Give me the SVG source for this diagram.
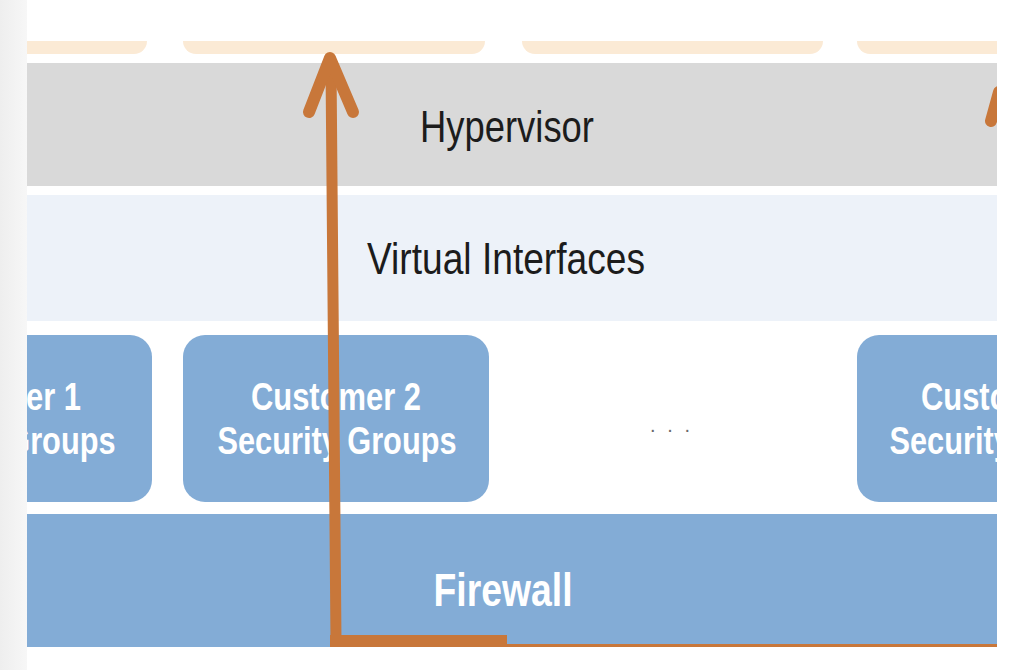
<svg xmlns="http://www.w3.org/2000/svg" width="1012" height="670" viewBox="0 0 1012 670">
  <style>
    .peach { fill: #fbead5; }
    .hyper { fill: #d9d9d9; }
    .vif { fill: #edf2f9; }
    .blue { fill: #83acd6; }
    .dark { font-family: "Liberation Sans", Arial, sans-serif; font-size: 44px; fill: #1c1c1c; text-anchor: middle; }
    .cust { font-family: "Liberation Sans", Arial, sans-serif; font-size: 38px; font-weight: bold; fill: #ffffff; text-anchor: middle; }
    .fw { font-family: "Liberation Sans", Arial, sans-serif; font-size: 47px; font-weight: bold; fill: #ffffff; text-anchor: middle; }
    .dots { font-family: "Liberation Sans", Arial, sans-serif; font-size: 20px; fill: #6a6a6a; text-anchor: middle; }
    .flow { fill: none; stroke: #c8773a; stroke-linecap: round; stroke-linejoin: round; }
  </style>
  <defs>
    <linearGradient id="margin" x1="0" y1="0" x2="1" y2="0">
      <stop offset="0" stop-color="#eeeeee"/>
      <stop offset="1" stop-color="#f7f7f7"/>
    </linearGradient>
    <clipPath id="area">
      <rect x="27" y="0" width="970" height="670"/>
    </clipPath>
    <clipPath id="bars">
      <rect x="27" y="41" width="970" height="20"/>
    </clipPath>
  </defs>

  <rect x="0" y="0" width="1012" height="670" fill="#ffffff"/>
  <rect x="0" y="0" width="27" height="670" fill="url(#margin)"/>

  <g clip-path="url(#area)">
    <g id="vm-bars" clip-path="url(#bars)">
      <rect class="peach" x="-100" y="20" width="247" height="34" rx="13"/>
      <rect class="peach" x="183" y="20" width="302" height="34" rx="13"/>
      <rect class="peach" x="522" y="20" width="301" height="34" rx="13"/>
      <rect class="peach" x="857" y="20" width="300" height="34" rx="13"/>
    </g>

    <g id="hypervisor">
      <rect class="hyper" x="27" y="63" width="970" height="123"/>
      <text class="dark" x="507" y="142" textLength="174" lengthAdjust="spacingAndGlyphs">Hypervisor</text>
    </g>

    <g id="virtual-interfaces">
      <rect class="vif" x="27" y="195" width="970" height="126"/>
      <text class="dark" x="506" y="274" textLength="278" lengthAdjust="spacingAndGlyphs">Virtual Interfaces</text>
    </g>

    <g id="customer1">
      <rect class="blue" x="-160" y="335" width="312" height="167" rx="22"/>
      <text class="cust" x="-4" y="410" textLength="170" lengthAdjust="spacingAndGlyphs">Customer 1</text>
      <text class="cust" x="-4" y="454" textLength="239" lengthAdjust="spacingAndGlyphs">Security Groups</text>
    </g>

    <g id="customer2">
      <rect class="blue" x="183" y="335" width="306" height="167" rx="22"/>
      <text class="cust" x="336" y="410" textLength="170" lengthAdjust="spacingAndGlyphs">Customer 2</text>
      <text class="cust" x="337" y="454" textLength="239" lengthAdjust="spacingAndGlyphs">Security Groups</text>
    </g>

    <g id="ellipsis">
      <text class="dots" x="670" y="432" textLength="40" lengthAdjust="spacing">. . .</text>
    </g>

    <g id="customer3">
      <rect class="blue" x="857" y="335" width="306" height="167" rx="22"/>
      <text class="cust" x="1006" y="410" textLength="170" lengthAdjust="spacingAndGlyphs">Customer 3</text>
      <text class="cust" x="1009" y="454" textLength="239" lengthAdjust="spacingAndGlyphs">Security Groups</text>
    </g>

    <g id="firewall">
      <rect class="blue" x="27" y="514" width="970" height="133"/>
      <text class="fw" x="503" y="606" textLength="139" lengthAdjust="spacingAndGlyphs">Firewall</text>
    </g>

    <g id="connectors">
      <path class="flow" d="M331 66 L336 641" stroke-width="11" stroke-linecap="butt"/>
      <polyline class="flow" points="309,112 330,58 353,112" stroke-width="12"/>
      <rect x="330" y="635" width="177" height="12" fill="#c8773a"/>
      <rect x="507" y="644" width="490" height="3" fill="#c8773a"/>
      <line class="flow" x1="999" y1="92" x2="991" y2="121" stroke-width="12"/>
    </g>
  </g>
</svg>
